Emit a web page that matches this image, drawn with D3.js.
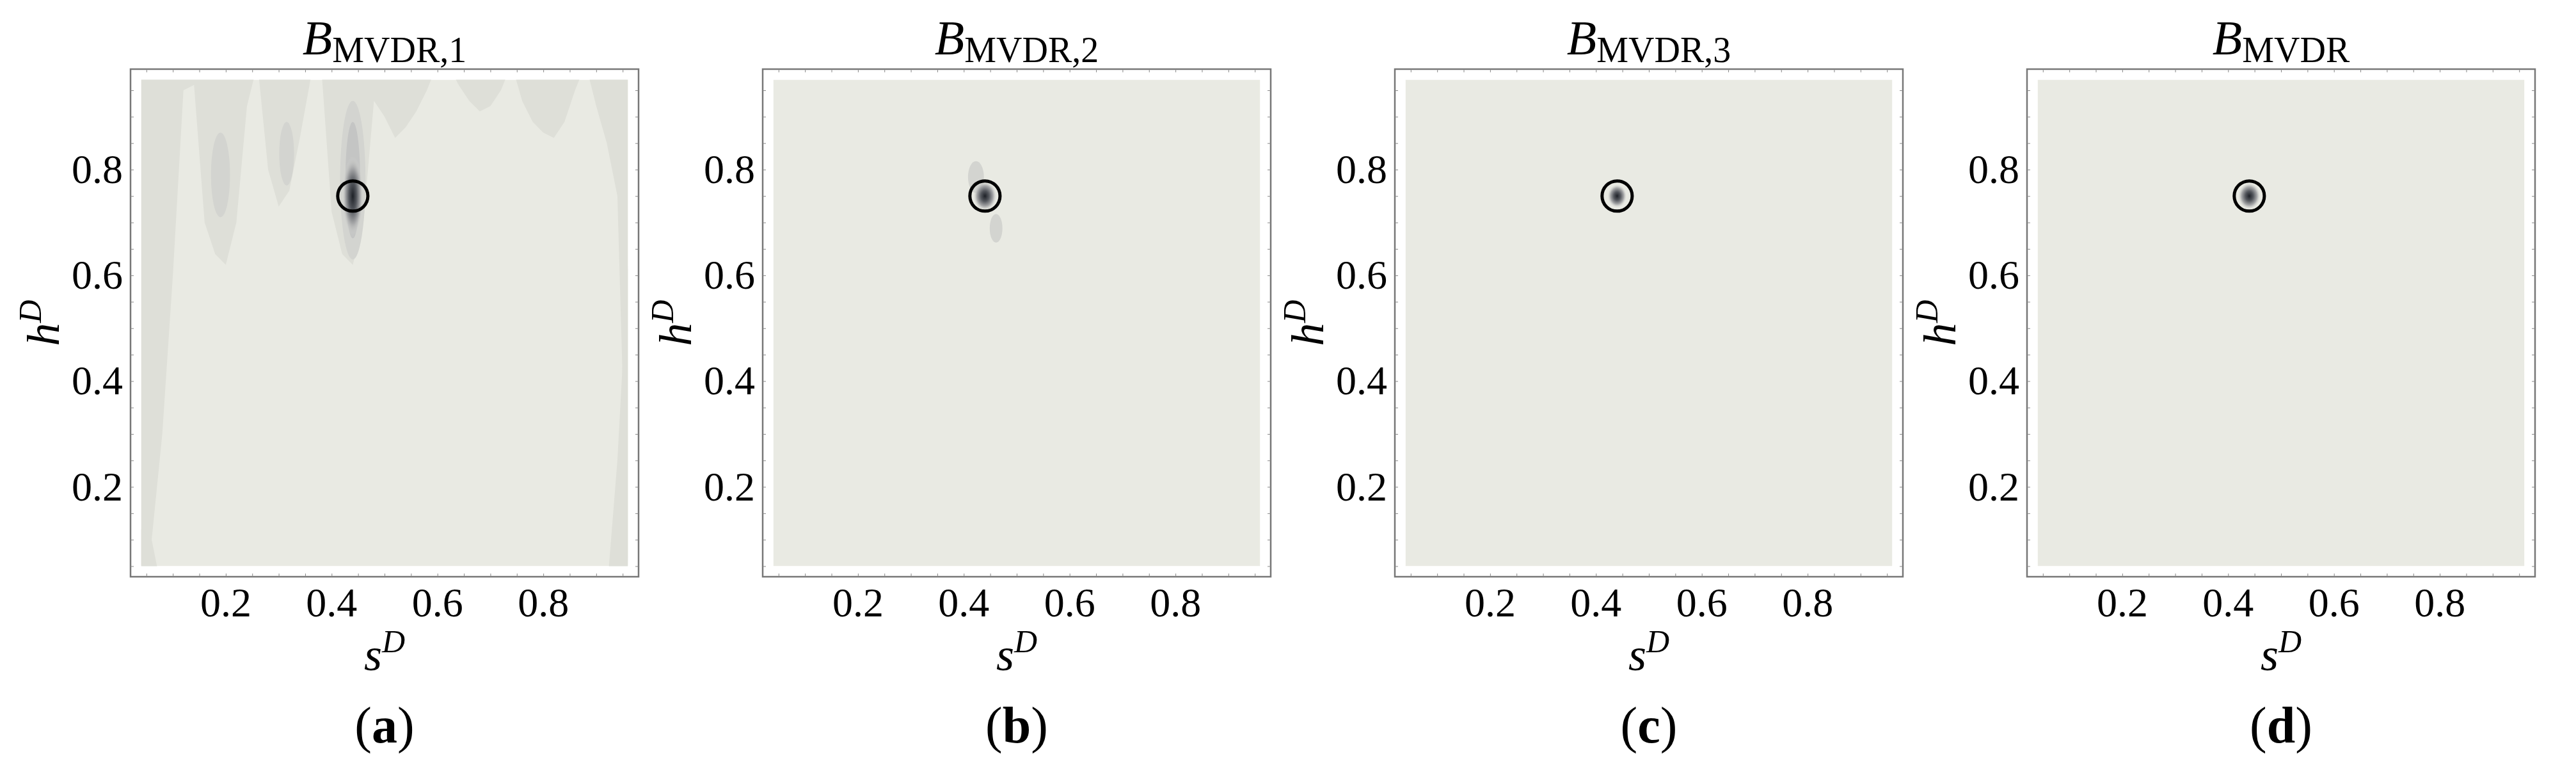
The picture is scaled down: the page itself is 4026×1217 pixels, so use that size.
<!DOCTYPE html>
<html>
<head>
<meta charset="UTF-8" />
<script src="https://d3js.org/d3.v7.min.js"></script>
<style>
  body { margin: 0; background: #fff; }
  text { font-family: "Liberation Serif", "Times New Roman", serif; }
</style>
</head>
<body>
<div id="main"></div>
<script>
// panel titles (subscripts) and captions
var subs = ['MVDR,1', 'MVDR,2', 'MVDR,3', 'MVDR'];
var captions = ['a', 'b', 'c', 'd'];
var tickLabels = [0.2, 0.4, 0.6, 0.8];

// true source position (circle marker)
var source = { s: 0.44, h: 0.75 };

// panel (a): darker background structure read per column
var sCols = [0.04, 0.06, 0.08, 0.10, 0.12, 0.14, 0.16, 0.18, 0.20, 0.22, 0.24, 0.26,
             0.28, 0.30, 0.32, 0.34, 0.36, 0.38, 0.40, 0.42, 0.44, 0.46, 0.48, 0.50,
             0.52, 0.54, 0.56, 0.58, 0.60, 0.62, 0.64, 0.66, 0.68, 0.70, 0.72, 0.74,
             0.76, 0.78, 0.80, 0.82, 0.84, 0.86, 0.88, 0.90, 0.92, 0.94, 0.96];
// lowest h reached by the darker band hanging from the top (null = none)
var hangDepth = [0.05, 0.10, 0.30, 0.60, 0.95, 0.96, 0.70, 0.64, 0.62, 0.70, 0.92, null,
                 0.80, 0.73, 0.76, 0.86, 0.97, null, 0.72, 0.64, 0.62, 0.70, 0.93, 0.90,
                 0.86, 0.88, 0.91, 0.95, null, null, 0.96, 0.93, 0.91, 0.92, 0.95, null,
                 0.93, 0.89, 0.87, 0.86, 0.89, 0.95, null, 0.92, 0.85, 0.75, 0.05];
// highest h reached by a darker band rising from the bottom (null = none)
var riseTop = [0.12, 0.10, null, null, null, null, null, null, null, null, null, null,
               null, null, null, null, null, null, null, null, null, null, null, null,
               null, null, null, null, null, null, null, null, null, null, null, null,
               null, null, null, null, null, null, null, null, null, 0.25, 0.62];
// darker patches in panel (a): [s, h, rx, ry, level]
var patchesA = [[0.19, 0.79, 0.018, 0.08, 2], [0.315, 0.83, 0.014, 0.06, 2],
                [0.44, 0.78, 0.024, 0.15, 2], [0.44, 0.78, 0.014, 0.11, 3]];
// faint side lobes in panel (b): [s, h, rx, ry, level]
var patchesB = [[0.423, 0.786, 0.015, 0.03, 2], [0.461, 0.689, 0.012, 0.027, 2]];
// peak size per panel: [rx, ry] in data units
var peakSize = [[0.02, 0.075], [0.022, 0.028], [0.018, 0.022], [0.021, 0.025]];

var W = 4026, H = 1217;
var panelLeft = [204, 1192, 2180, 3168];
var pw = 794, top0 = 108, ph = 793;
var levelColor = ['#e9eae3', '#dedfd8', '#d3d4d0', '#c4c5c4'];

var svg = d3.select('#main').append('svg').attr('width', W).attr('height', H);
var defs = svg.append('defs');

captions.forEach(function(c, i) {
  var x = d3.scaleLinear().domain([0.02, 0.98]).range([0, pw]);
  var y = d3.scaleLinear().domain([0.03, 0.99]).range([ph, 0]);
  var g = svg.append('g').attr('transform', 'translate(' + panelLeft[i] + ',' + top0 + ')');

  defs.append('clipPath').attr('id', 'clip' + i).append('rect')
    .attr('x', x(0.04)).attr('y', y(0.97)).attr('width', x(0.96) - x(0.04)).attr('height', y(0.05) - y(0.97));
  var rg = defs.append('radialGradient').attr('id', 'peak' + i);
  rg.append('stop').attr('offset', '0%').attr('stop-color', '#1e2127');
  rg.append('stop').attr('offset', '35%').attr('stop-color', '#53565c');
  rg.append('stop').attr('offset', '70%').attr('stop-color', '#a8a9aa');
  rg.append('stop').attr('offset', '100%').attr('stop-color', '#d8d9d5').attr('stop-opacity', 0);

  var field = g.append('g').attr('clip-path', 'url(#clip' + i + ')');
  field.append('rect').attr('x', x(0.04)).attr('y', y(0.97))
    .attr('width', x(0.96) - x(0.04)).attr('height', y(0.05) - y(0.97)).attr('fill', levelColor[0]);

  if (i === 0) {
    // band hanging from the top: area above h = hangDepth(s)
    var hang = d3.area()
      .x(function(d) { return x(d[0]); })
      .y0(y(1.0))
      .y1(function(d) { return y(d[1] === null ? 1.0 : d[1]); });
    field.append('path').datum(d3.zip(sCols, hangDepth)).attr('d', hang).attr('fill', levelColor[1]);
    var rise = d3.area()
      .x(function(d) { return x(d[0]); })
      .y0(y(0.0))
      .y1(function(d) { return y(d[1] === null ? 0.0 : d[1]); });
    field.append('path').datum(d3.zip(sCols, riseTop)).attr('d', rise).attr('fill', levelColor[1]);
  }
  var patches = i === 0 ? patchesA : (i === 1 ? patchesB : []);
  field.selectAll('ellipse.patch').data(patches).enter().append('ellipse').attr('class', 'patch')
    .attr('cx', function(d) { return x(d[0]); }).attr('cy', function(d) { return y(d[1]); })
    .attr('rx', function(d) { return x(d[2]) - x(0); }).attr('ry', function(d) { return y(0) - y(d[3]); })
    .attr('fill', function(d) { return levelColor[d[4]]; });

  field.append('ellipse').attr('cx', x(source.s)).attr('cy', y(source.h))
    .attr('rx', x(peakSize[i][0]) - x(0)).attr('ry', y(0) - y(peakSize[i][1]))
    .attr('fill', 'url(#peak' + i + ')');

  g.append('circle').attr('cx', x(source.s)).attr('cy', y(source.h)).attr('r', x(0.0285) - x(0))
    .attr('fill', 'none').attr('stroke', '#000').attr('stroke-width', 5);

  // frame and ticks
  g.append('rect').attr('width', pw).attr('height', ph).attr('fill', 'none').attr('stroke', '#777').attr('stroke-width', 2.5);
  var minor = d3.range(0.05, 0.96, 0.05);
  g.append('g').attr('transform', 'translate(0,' + ph + ')')
    .call(d3.axisBottom(x).tickValues(minor).tickSize(-5).tickFormat(''));
  g.append('g').call(d3.axisTop(x).tickValues(minor).tickSize(-5).tickFormat(''));
  g.append('g').call(d3.axisLeft(y).tickValues(minor).tickSize(-5).tickFormat(''));
  g.append('g').attr('transform', 'translate(' + pw + ',0)')
    .call(d3.axisRight(y).tickValues(minor).tickSize(-5).tickFormat(''));
  g.selectAll('.domain').remove();
  g.selectAll('.tick line').attr('stroke', '#888');

  g.selectAll('text.xt').data(tickLabels).enter().append('text').attr('class', 'xt')
    .attr('x', function(d) { return x(d); }).attr('y', ph + 62).attr('text-anchor', 'middle')
    .attr('font-size', 64).text(function(d) { return d.toFixed(1); });
  g.selectAll('text.yt').data(tickLabels).enter().append('text').attr('class', 'yt')
    .attr('x', -12).attr('y', function(d) { return y(d) + 21; }).attr('text-anchor', 'end')
    .attr('font-size', 64).text(function(d) { return d.toFixed(1); });

  var t = g.append('text').attr('x', pw / 2).attr('y', -23).attr('text-anchor', 'middle');
  t.append('tspan').attr('font-style', 'italic').attr('font-size', 76).text('B');
  t.append('tspan').attr('font-size', 56).attr('dy', 12).text(subs[i]);

  var xl = g.append('text').attr('x', pw / 2).attr('y', ph + 146).attr('text-anchor', 'middle');
  xl.append('tspan').attr('font-style', 'italic').attr('font-size', 72).text('s');
  xl.append('tspan').attr('font-style', 'italic').attr('font-size', 50).attr('dy', -28).text('D');

  var yl = g.append('text').attr('transform', 'translate(-112,' + ph / 2 + ') rotate(-90)').attr('text-anchor', 'middle');
  yl.append('tspan').attr('font-style', 'italic').attr('font-size', 72).text('h');
  yl.append('tspan').attr('font-style', 'italic').attr('font-size', 50).attr('dy', -28).text('D');

  var cp = g.append('text').attr('x', pw / 2).attr('y', ph + 259).attr('text-anchor', 'middle').attr('font-size', 80);
  cp.append('tspan').text('(');
  cp.append('tspan').attr('font-weight', 'bold').text(c);
  cp.append('tspan').text(')');
});
</script>
</body>
</html>
